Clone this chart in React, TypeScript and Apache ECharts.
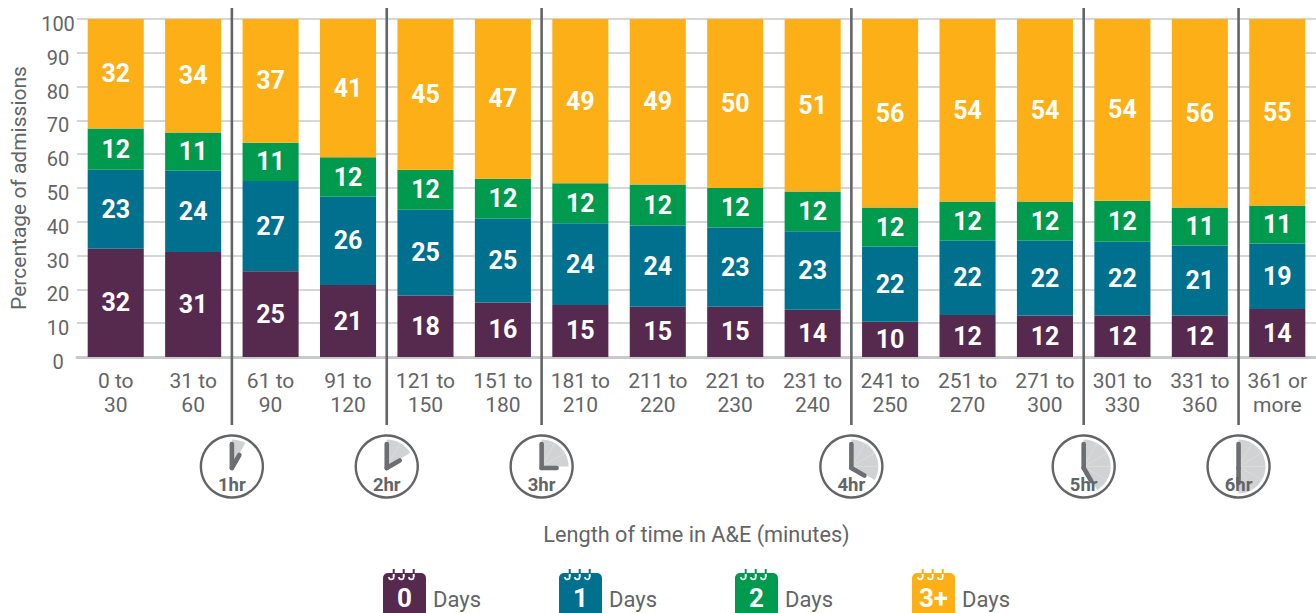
import React, { useEffect, useRef } from "react";
import * as echarts from "echarts";

const categories = ["0 to\n30","31 to\n60","61 to\n90","91 to\n120","121 to\n150","151 to\n180","181 to\n210","211 to\n220","221 to\n230","231 to\n240","241 to\n250","251 to\n270","271 to\n300","301 to\n330","331 to\n360","361 or\nmore"];
const days0 = [32.0,31.1,25.4,21.3,18.2,16.1,15.4,14.9,14.9,14.0,10.4,12.4,12.3,12.3,12.3,14.2];
const days1 = [23.4,24.0,26.7,26.1,25.4,24.8,24.2,24.0,23.4,23.2,22.2,22.0,22.1,21.8,20.7,19.4];
const days2 = [12.2,11.3,11.3,11.7,11.8,11.8,11.8,12.1,11.7,11.8,11.6,11.6,11.6,12.1,11.2,11.2];
const days3 = [32.4,33.6,36.6,40.9,44.6,47.3,48.6,49.0,50.0,51.0,55.8,54.0,54.0,53.8,55.8,55.2];
const seriesNames = ["0","1","2","3+"];
const seriesColors = ["#56294f","#00708f","#009a4f","#fcaf17"];
const legendX = [383,559,735,912];
const clockAfterIndex = [1,3,5,9,12,14];
const clockHours = [1,2,3,4,5,6];
const GREY = "#636466";
const FONT = "Roboto";

function renderClock(params: any, api: any) {
  const i = api.value(0);
  const hr = api.value(1);
  const a = api.coord([i, 0]);
  const b = api.coord([i + 1, 0]);
  const x = (a[0] + b[0]) / 2;
  const y0 = a[1];
  const cy = y0 + 109.5;
  const r = 27;
  const children: any[] = [
    { type: "line", shape: { x1: x, y1: 8, x2: x, y2: 425 }, style: { stroke: GREY, lineWidth: 2.6 } },
    { type: "circle", shape: { cx: x, cy, r: 31 }, style: { fill: "#fff", stroke: GREY, lineWidth: 2.4 } },
    {
      type: "sector",
      shape: { cx: x, cy, r, r0: 0, startAngle: -Math.PI / 2, endAngle: -Math.PI / 2 + (hr * Math.PI) / 6, clockwise: true },
      style: { fill: "#d1d2d4" },
    },
  ];
  for (let k = 1; k < hr; k++) {
    const t = -Math.PI / 2 + (k * Math.PI) / 6;
    children.push({ type: "line", shape: { x1: x, y1: cy, x2: x + r * Math.cos(t), y2: cy + r * Math.sin(t) }, style: { stroke: "#dfe0e1", lineWidth: 0.6 } });
  }
  const py = cy + 1.5;
  const t = -Math.PI / 2 + (hr * Math.PI) / 6;
  children.push(
    { type: "line", shape: { x1: x, y1: py, x2: x, y2: py - 24 }, style: { stroke: "#6d6e71", lineWidth: 4.6, lineCap: "round" } },
    { type: "line", shape: { x1: x, y1: py, x2: x + 15 * Math.cos(t), y2: py + 15 * Math.sin(t) }, style: { stroke: "#6d6e71", lineWidth: 4.6, lineCap: "round" } },
    { type: "text", style: { x, y: cy + 18.5, text: hr + "hr", fill: GREY, font: `bold 18.5px ${FONT}`, textAlign: "center", textVerticalAlign: "middle" } }
  );
  return { type: "group", children };
}

function legendIcon(x: number, color: string, label: string) {
  const top = 573;
  const hooks = [10.7, 20.7, 30.7].flatMap((dx) => [
    { type: "line", shape: { x1: x + dx, y1: 569, x2: x + dx, y2: 575 }, style: { stroke: color, lineWidth: 2 } },
    { type: "arc", shape: { cx: x + dx - 2.4, cy: 577, r: 2.4, startAngle: 0, endAngle: Math.PI, clockwise: true }, style: { stroke: "#fff", lineWidth: 1.6, fill: "none" } },
    { type: "line", shape: { x1: x + dx, y1: 574, x2: x + dx, y2: 577 }, style: { stroke: "#fff", lineWidth: 2 } },
  ]);
  return [
    { type: "rect", shape: { x, y: top, width: 43, height: 46, r: 5 }, style: { fill: color } },
    ...hooks,
    { type: "text", style: { x: x + 21.5, y: 597.5, text: label, fill: "#fff", font: `bold 26px ${FONT}`, textAlign: "center", textVerticalAlign: "middle" } },
    { type: "text", style: { x: x + 50, y: 599.5, text: "Days", fill: GREY, font: `22px ${FONT}`, textAlign: "left", textVerticalAlign: "middle" } },
  ];
}

export default function App() {
  const ref = useRef<HTMLDivElement>(null);
  useEffect(() => {
    document.body.style.margin = "0";
    document.body.style.overflow = "hidden";
    const chart = echarts.init(ref.current!, undefined, { renderer: "svg" });
    const values = [days0, days1, days2, days3];
    chart.setOption({
      animation: false,
      textStyle: { fontFamily: FONT },
      grid: { left: 77, right: 0, top: 19, bottom: 256, outerBoundsMode: "none", containLabel: false },
      xAxis: {
        type: "category",
        data: categories,
        axisTick: { show: false },
        axisLine: { show: true, lineStyle: { color: "#c8c9cb", width: 3 } },
        axisLabel: { color: GREY, fontSize: 21, lineHeight: 24, margin: 12, interval: 0, fontFamily: FONT },
        name: "Length of time in A&E (minutes)",
        nameLocation: "middle",
        nameGap: 166,
        nameTextStyle: { color: GREY, fontSize: 21.7, fontFamily: FONT },
      },
      yAxis: {
        type: "value",
        min: 0,
        max: 100,
        interval: 10,
        axisLine: { show: false },
        axisTick: { show: false },
        splitLine: { lineStyle: { color: "#c8c9cb", width: 1.5 } },
        axisLabel: { color: GREY, fontSize: 20, align: "center", margin: 19, verticalAlign: "top", lineHeight: 10, fontFamily: FONT },
        name: "Percentage of admissions",
        nameLocation: "middle",
        nameGap: 48,
        nameRotate: 90,
        nameTextStyle: { color: GREY, fontSize: 21, fontFamily: FONT },
      },
      series: [
        ...values.map((v, s) => ({
          name: seriesNames[s],
          type: "bar",
          stack: "total",
          data: v,
          barWidth: "72.4%",
          itemStyle: { color: seriesColors[s] },
          label: {
            show: true,
            position: "inside",
            color: "#fff",
            fontSize: 25,
            fontWeight: "bold",
            fontFamily: FONT,
            formatter: (p: any) => String(Math.round(p.value)),
          },
        })),
        {
          type: "custom",
          clip: false,
          z: 10,
          silent: true,
          renderItem: renderClock,
          encode: { x: 0, y: 1 },
          data: clockAfterIndex.map((idx, k) => [idx, clockHours[k]]),
        },
      ],
      graphic: { elements: legendX.flatMap((x, k) => legendIcon(x, seriesColors[k], seriesNames[k])) },
    });
    return () => chart.dispose();
  }, []);
  return <div ref={ref} style={{ width: 1316, height: 613 }} />;
}
